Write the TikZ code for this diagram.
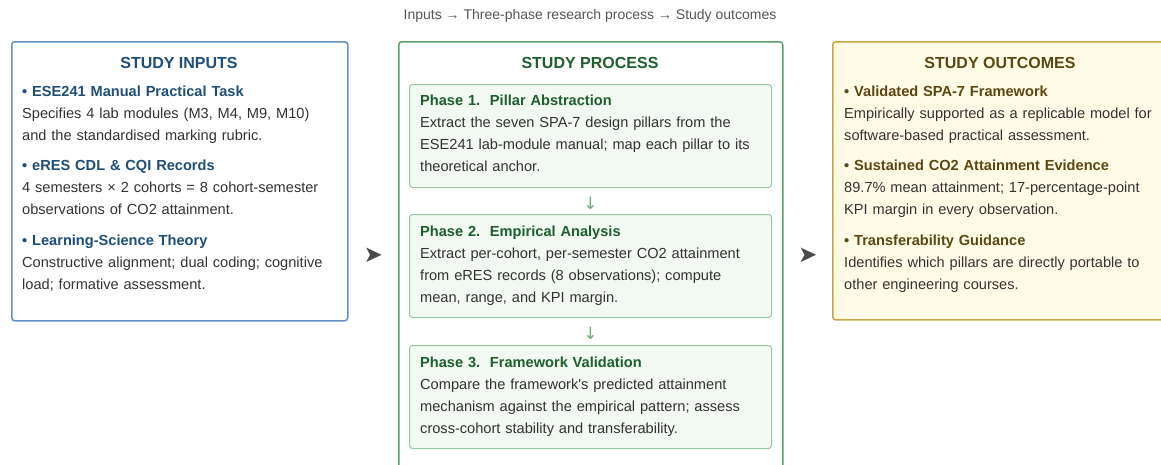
\documentclass[tikz,border=0pt]{standalone}
\usepackage{fontspec}
\setmainfont{Liberation Sans}
\newfontfamily\djv{DejaVu Sans}
\usetikzlibrary{calc}
\definecolor{inblue}{HTML}{1F4E79}
\definecolor{inborder}{HTML}{6690C0}
\definecolor{prgreen}{HTML}{1E5E2F}
\definecolor{prborder}{HTML}{5E9E6E}
\definecolor{phfill}{HTML}{F2F8F2}
\definecolor{phborder}{HTML}{97C7A0}
\definecolor{pharrow}{HTML}{6FAE7C}
\definecolor{outfill}{HTML}{FFFBE6}
\definecolor{outborder}{HTML}{C8A644}
\definecolor{outtitle}{HTML}{5C4613}
\definecolor{bodytext}{HTML}{333333}
\definecolor{captext}{HTML}{555555}
\definecolor{bigarrow}{HTML}{4A4A4A}
\begin{document}
\begin{tikzpicture}[x=1pt,y=-1pt,
  panel/.style={draw, line width=1.5pt, rounded corners=3pt, anchor=north west, inner sep=0pt},
  inpanel/.style={panel, draw=inborder, fill=white},
  prpanel/.style={panel, draw=prborder, fill=white},
  outpanel/.style={panel, draw=outborder, fill=outfill},
  phasebox/.style={draw=phborder, fill=phfill, line width=1pt, rounded corners=3pt, anchor=north west, inner sep=0pt, minimum width=362pt, minimum height=103pt},
  paneltitle/.style={anchor=base, inner sep=0pt, font=\fontsize{16pt}{19pt}\selectfont\bfseries},
  item/.style={anchor=base west, inner sep=0pt, text width=345pt, align=left, text=bodytext, font=\fontsize{14.6pt}{22pt}\selectfont},
  bigarr/.style={text=bigarrow, inner sep=0pt, font=\djv\fontsize{23pt}{24pt}\selectfont},
  smallarr/.style={text=pharrow, inner sep=0pt, font=\djv\fontsize{17pt}{18pt}\selectfont}
]
\useasboundingbox (0,0) rectangle (1161,464);
\clip (0,0) rectangle (1161,464);

% caption
\node (cap) [text=captext, inner sep=0pt, font=\fontsize{14pt}{16pt}\selectfont] at (590,16) {Inputs → Three-phase research process → Study outcomes};

% panels
\node (inbox) [inpanel, minimum width=336pt, minimum height=279pt] at (11,41) {};
\node (prbox) [prpanel, minimum width=384pt, minimum height=428pt] at (398,41) {};
\node (outbox) [outpanel, minimum width=336pt, minimum height=278pt] at (832,41) {};

% titles
\node (intitle) [paneltitle, text=inblue] at (179,68) {STUDY INPUTS};
\node (prtitle) [paneltitle, text=prgreen] at (590,68) {STUDY PROCESS};
\node (outtitle) [paneltitle, text=outtitle] at (1000,68) {STUDY OUTCOMES};

% inputs
\node (in1) [item] at (22,96.5) {\textcolor{inblue}{\bfseries • ESE241 Manual Practical Task}\\
Specifies 4 lab modules (M3, M4, M9, M10)\\
and the standardised marking rubric.};
\node (in2) [item] at (22,170.5) {\textcolor{inblue}{\bfseries • eRES CDL \& CQI Records}\\
4 semesters × 2 cohorts = 8 cohort-semester\\
observations of CO2 attainment.};
\node (in3) [item] at (22,245.5) {\textcolor{inblue}{\bfseries • Learning-Science Theory}\\
Constructive alignment; dual coding; cognitive\\
load; formative assessment.};

% phases
\node (p1) [phasebox] at (409,84) {};
\node (p2) [phasebox] at (409,214) {};
\node (p3) [phasebox] at (409,345) {};

\node (p1t) [item] at (420,105.5) {\textcolor{prgreen}{\bfseries Phase 1.\ \ Pillar Abstraction}\\
Extract the seven SPA-7 design pillars from the\\
ESE241 lab-module manual; map each pillar to its\\
theoretical anchor.};
\node (p2t) [item] at (420,236.5) {\textcolor{prgreen}{\bfseries Phase 2.\ \ Empirical Analysis}\\
Extract per-cohort, per-semester CO2 attainment\\
from eRES records (8 observations); compute\\
mean, range, and KPI margin.};
\node (p3t) [item] at (420,367.5) {\textcolor{prgreen}{\bfseries Phase 3.\ \ Framework Validation}\\
Compare the framework\textquotesingle s predicted attainment\\
mechanism against the empirical pattern; assess\\
cross-cohort stability and transferability.};

\node (a12) [smallarr] at ($(p1.south)!0.5!(p2.north)+(0,2)$) {↓};
\node (a23) [smallarr] at ($(p2.south)!0.5!(p3.north)+(0,2)$) {↓};

% outcomes
\node (o1) [item] at (844,96.5) {\textcolor{outtitle}{\bfseries • Validated SPA-7 Framework}\\
Empirically supported as a replicable model for\\
software-based practical assessment.};
\node (o2) [item] at (844,170.5) {\textcolor{outtitle}{\bfseries • Sustained CO2 Attainment Evidence}\\
89.7\% mean attainment; 17-percentage-point\\
KPI margin in every observation.};
\node (o3) [item] at (844,245.5) {\textcolor{outtitle}{\bfseries • Transferability Guidance}\\
Identifies which pillars are directly portable to\\
other engineering courses.};

% big arrows between panels
\coordinate (midy) at (prbox.center);
\node (arr1) [bigarr] at ($(inbox.east |- midy)!0.5!(prbox.west |- midy)$) {➤};
\node (arr2) [bigarr] at ($(prbox.east |- midy)!0.5!(outbox.west |- midy)$) {➤};
\end{tikzpicture}
\end{document}
